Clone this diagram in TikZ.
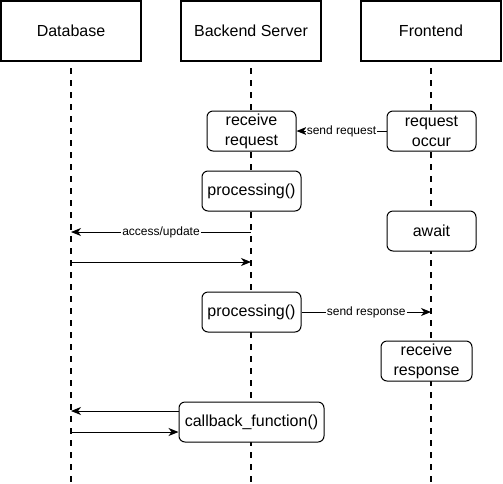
\documentclass[tikz,border=0pt]{standalone}
\usepackage{fontspec}
\setmainfont{Liberation Sans}
\usetikzlibrary{arrows.meta}
\usetikzlibrary{positioning}

\begin{document}
\begin{tikzpicture}[x=1pt,y=-1pt,
  actor/.style={draw,line width=2pt,minimum width=140pt,minimum height=60pt,inner sep=0pt,font=\fontsize{16}{20}\selectfont},
  lifeline/.style={line width=2pt,dash pattern=on 6pt off 6pt,dash phase=6pt},
  act/.style={draw,fill=white,rounded corners=6pt,line width=1pt,minimum height=40pt,inner sep=0pt,align=center,font=\fontsize{16}{20}\selectfont},
  msg/.style={line width=1pt,-{Stealth[length=10pt,width=8pt,inset=3pt]}},
  lbl/.style={fill=white,inner sep=1pt,font=\fontsize{12}{14}\selectfont}]
\useasboundingbox (0,0) rectangle (503,483);
\node[actor] (db) at (71,31) {Database};
\node[actor] (be) at (251,31) {Backend Server};
\node[actor] (fe) at (431,31) {Frontend};
\coordinate (dbend) at (71,483);
\coordinate (beend) at (251,483);
\coordinate (feend) at (431,483);
\draw[lifeline] (db.south) -- (dbend);
\draw[lifeline] (be.south) -- (beend);
\draw[lifeline] (fe.south) -- (feend);
\node[act,minimum width=89pt] (recv) at (251.5,131) {receive\\request};
\node[act,minimum width=89pt] (occur) at (431.5,131) {request\\occur};
\node[act,minimum width=99pt] (proc1) at (251.5,191) {processing()};
\node[act,minimum width=89pt] (await) at (431.5,231) {await};
\node[act,minimum width=99pt] (proc2) at (251.5,312) {processing()};
\node[act,minimum width=91pt] (resp) at (426.5,361) {receive\\response};
\node[act,minimum width=145pt] (cb) at (251.5,422) {callback\_function()};
\coordinate (beacc) at (251,232);
\coordinate (dbacc) at (71,232);
\coordinate (dbret) at (71,262);
\coordinate (beret) at (251,262);
\coordinate (feresp) at (431,312);
\coordinate (dbcb) at (71,411);
\coordinate (dbcbret) at (71,432);
\draw[msg] (occur.west) -- node[lbl] {send request} (recv.east);
\draw[msg] (beacc) -- node[lbl] {access/update} (dbacc);
\draw[msg] (dbret) -- (beret);
\draw[msg] (proc2.east) -- node[lbl] {send response} (feresp);
\draw[msg] ([yshift=11pt]cb.west) -- (dbcb);
\draw[msg] (dbcbret) -- ([yshift=-10pt]cb.west);
\end{tikzpicture}
\end{document}
